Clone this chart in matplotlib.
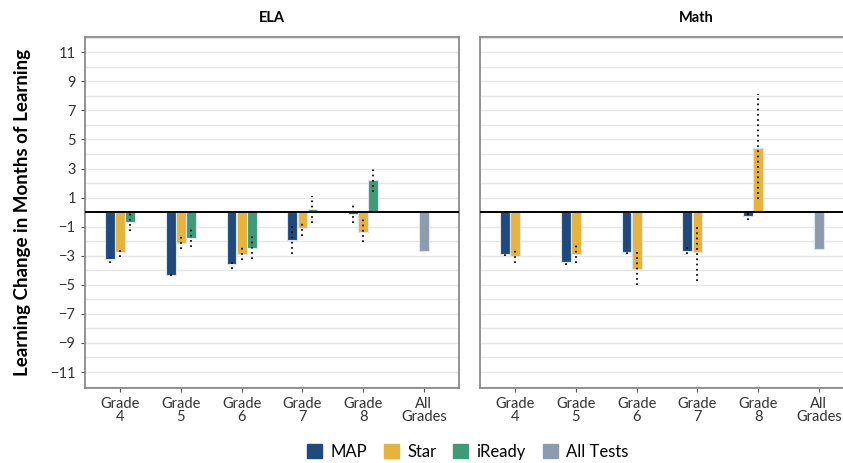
import numpy as np
import matplotlib.pyplot as plt

plt.rcParams['font.family'] = ['Lato', 'DejaVu Sans']

categories = ["Grade\n4", "Grade\n5", "Grade\n6", "Grade\n7", "Grade\n8", "All\nGrades"]

# ELA estimates and interval bounds (grades 4-8)
ela_map = [-3.25, -4.3, -3.6, -1.95, -0.15]
ela_map_lo = [-3.5, -4.4, -3.9, -2.85, -0.75]
ela_map_hi = [-3.1, -4.15, -3.25, -0.95, 0.55]
ela_star = [-2.75, -2.1, -2.85, -1.1, -1.35]
ela_star_lo = [-3.1, -2.55, -3.3, -1.65, -2.05]
ela_star_hi = [-2.4, -1.65, -2.35, -0.65, -0.45]
ela_iready = [-0.65, -1.75, -2.5, 0.2, 2.2]
ela_iready_lo = [-1.3, -2.4, -3.25, -0.75, 1.4]
ela_iready_hi = [-0.05, -1.1, -1.65, 1.1, 3.0]
ela_all = -2.65

# Math estimates and interval bounds (grades 4-8)
math_map = [-2.9, -3.45, -2.75, -2.65, -0.3]
math_map_lo = [-3.05, -3.65, -2.9, -2.9, -0.55]
math_map_hi = [-2.75, -3.3, -2.55, -2.25, 0.05]
math_star = [-3.05, -2.85, -3.9, -2.75, 4.4]
math_star_lo = [-3.5, -3.5, -5.0, -4.75, 0.9]
math_star_hi = [-2.5, -2.15, -2.75, -0.8, 8.1]
math_all = -2.55

colors = {"MAP": "#1f4a7f", "Star": "#e6b33c", "iReady": "#3f9a78", "All Tests": "#8c9bae"}
W = 0.16
OFF = {"MAP": -0.167, "Star": 0.0, "iReady": 0.167}


def draw_series(ax, name, vals, lo, hi):
    x = np.arange(len(vals)) + OFF[name]
    ax.bar(x, vals, width=W, color=colors[name], edgecolor="#dfe5ec", linewidth=0.8, zorder=3)
    ax.vlines(x, lo, hi, colors="black", linestyles=(0, (1, 2.0)), linewidth=1.25, zorder=4)


fig = plt.figure(figsize=(8.43, 4.63), dpi=100)
ax1 = fig.add_axes([85 / 843, 75 / 463, 374 / 843, 351 / 463])
ax2 = fig.add_axes([480 / 843, 75 / 463, 374 / 843, 351 / 463], sharey=ax1)

draw_series(ax1, "MAP", ela_map, ela_map_lo, ela_map_hi)
draw_series(ax1, "Star", ela_star, ela_star_lo, ela_star_hi)
draw_series(ax1, "iReady", ela_iready, ela_iready_lo, ela_iready_hi)
ax1.bar(5, ela_all, width=W, color=colors["All Tests"], edgecolor="#dfe5ec", linewidth=0.8, zorder=3)

draw_series(ax2, "MAP", math_map, math_map_lo, math_map_hi)
draw_series(ax2, "Star", math_star, math_star_lo, math_star_hi)
ax2.bar(5, math_all, width=W, color=colors["All Tests"], edgecolor="#dfe5ec", linewidth=0.8, zorder=3)

for ax, title in [(ax1, "ELA"), (ax2, "Math")]:
    ax.set_xlim(-0.58, 5.58)
    ax.set_ylim(-12.1, 12.05)
    ax.set_xticks(range(len(categories)))
    ax.set_xticklabels(categories, fontsize=10.5, color="#333333", linespacing=0.95)
    ax.set_yticks(range(-11, 12, 2))
    ax.set_yticks(range(-12, 13), minor=True)
    ax.yaxis.grid(True, which="both", color="#e6e6e6", linewidth=1.0, zorder=0)
    ax.tick_params(axis="y", which="minor", length=0)
    ax.tick_params(axis="both", which="major", length=3, color="#555555", labelsize=10.5, labelcolor="#333333")
    ax.axhline(0, color="black", linewidth=1.4, zorder=5)
    for s in ax.spines.values():
        s.set_color("#8a8a8a")
        s.set_linewidth(1.3)
    ax.set_title(title, fontsize=10.5, fontweight="bold", pad=11)

ax1.set_yticklabels([f"{v}".replace("-", "\u2212") for v in range(-11, 12, 2)])
ax2.tick_params(axis="y", which="major", left=False, labelleft=False)
ax2.title.set_position((433 / 748, 1.0))
ax1.set_ylabel("Learning Change in Months of Learning", fontsize=13.5, fontweight="bold", labelpad=14)

handles = [plt.Rectangle((0, 0), 1, 1, color=colors[k]) for k in colors]
fig.legend(handles, list(colors.keys()), loc="center", bbox_to_anchor=(0.555, 0.024),
           ncol=4, frameon=False, fontsize=12, handlelength=0.9, handleheight=0.9,
           handletextpad=0.5, columnspacing=1.0)

fig.savefig("out.png", dpi=100)
